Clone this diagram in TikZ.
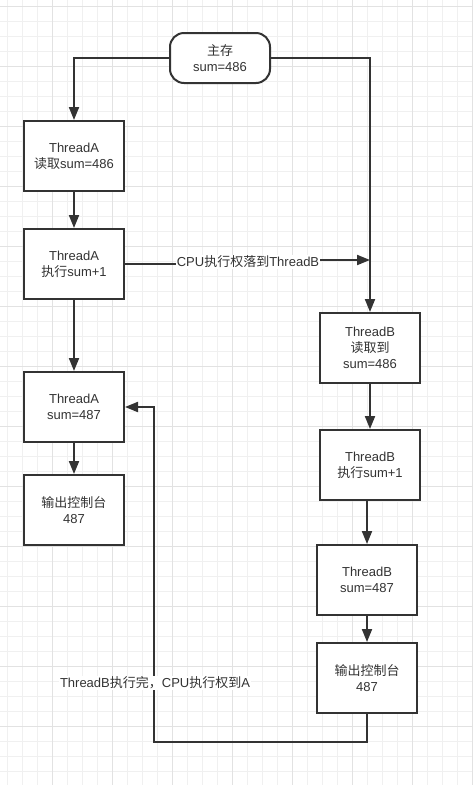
\documentclass[tikz,border=0pt]{standalone}
\usepackage{fontspec}
\setmainfont{Liberation Sans}
\newfontfamily\zh{Noto Sans CJK SC}
\usetikzlibrary{arrows.meta}
\definecolor{ink}{HTML}{333333}
\definecolor{gridminor}{HTML}{F0F0F0}
\definecolor{gridmajor}{HTML}{E2E2E2}
\begin{document}
\begin{tikzpicture}[x=1pt,y=-1pt,
  stepbox/.style={draw=ink,line width=2pt,fill=white,minimum width=100pt,minimum height=70pt,inner sep=0pt,align=center,text=ink,font=\fontsize{13}{16}\selectfont},
  memnode/.style={stepbox,minimum height=50pt,rounded corners=14pt},
  lbl/.style={fill=white,inner sep=1pt,text=ink,font=\fontsize{13}{16}\selectfont},
  arr/.style={draw=ink,line width=2pt,-{Triangle[length=13pt,width=10pt]}},
  ln/.style={draw=ink,line width=2pt}]
\useasboundingbox (0,0) rectangle (473,785);
\fill[white] (0,0) rectangle (473,785);
% grid
\foreach \i in {0,...,31} \draw[gridminor,line width=0.9pt] ({7.3+15*\i},0) -- ({7.3+15*\i},785);
\foreach \j in {0,...,51} \draw[gridminor,line width=0.9pt] (0,{6+15*\j}) -- (473,{6+15*\j});
\foreach \i in {0,...,7} \draw[gridmajor,line width=0.9pt] ({52.3+60*\i},0) -- ({52.3+60*\i},785);
\foreach \j in {0,...,12} \draw[gridmajor,line width=0.9pt] (0,{6+60*\j}) -- (473,{6+60*\j});
% nodes
\node[memnode] (mem) at (220,58) {{\zh 主存}\\sum=486};
\node[stepbox] (a1) at (74,156) {ThreadA\\{\zh 读取}sum=486};
\node[stepbox] (a2) at (74,264) {ThreadA\\{\zh 执行}sum+1};
\node[stepbox] (a3) at (74,407) {ThreadA\\sum=487};
\node[stepbox] (a4) at (74,510) {{\zh 输出控制台}\\487};
\node[stepbox] (b1) at (370,348) {ThreadB\\{\zh 读取到}\\sum=486};
\node[stepbox] (b2) at (370,465) {ThreadB\\{\zh 执行}sum+1};
\node[stepbox] (b3) at (367,580) {ThreadB\\sum=487};
\node[stepbox] (b4) at (367,678) {{\zh 输出控制台}\\487};
\coordinate (c1) at (370,260);
\coordinate (c2) at (154,742);
% connectors
\draw[arr] (mem.west) -| (a1.north);
\draw[arr] (mem.east) -| (b1.north);
\draw[arr] (a1) -- (a2);
\draw[arr] (a2) -- (a3);
\draw[arr] (a3) -- (a4);
\draw[arr] (b1) -- (b2);
\draw[arr] (b3.north |- b2.south) -- (b3.north);
\draw[arr] (b3) -- (b4);
\node[lbl] (l1) at (248,262) {CPU{\zh 执行权落到}ThreadB};
\draw[ln] (a2.east) -- (l1.west |- a2.east);
\draw[arr] (l1.east |- c1) -- (c1);
\draw[arr] (b4.south) |- (c2) |- (a3.east);
\node[lbl] (l2) at (155,683) {ThreadB{\zh 执行完，}CPU{\zh 执行权到}A};
\end{tikzpicture}
\end{document}
